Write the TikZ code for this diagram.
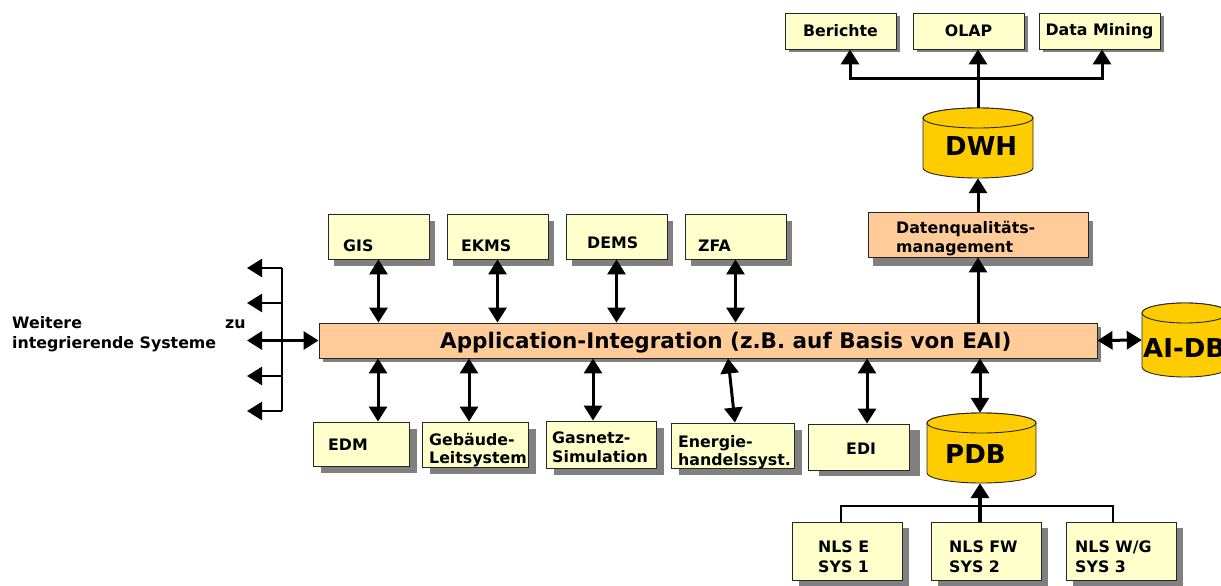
\documentclass[tikz,border=0pt]{standalone}
\usepackage{fontspec}
\setmainfont{DejaVu Sans}
\usetikzlibrary{arrows.meta,shadows}

\definecolor{boxyellow}{HTML}{FFFFCC}
\definecolor{boxpeach}{HTML}{FFCC99}
\definecolor{dbgold}{HTML}{FFCC00}
\definecolor{shadowgray}{HTML}{808080}

\tikzset{
  box/.style={draw=black!85, line width=0.9pt, inner sep=0pt},
  ybox/.style={box, fill=boxyellow},
  pbox/.style={box, fill=boxpeach},
  sh/.style 2 args={drop shadow={shadow xshift=#1, shadow yshift=#2, fill=shadowgray, opacity=1}},
  lbl/.style={font=\bfseries\fontsize{15.8}{19}\selectfont, inner sep=0pt, anchor=base west},
  ctr/.style={font=\bfseries\fontsize{15.8}{19}\selectfont},
  big/.style={font=\bfseries\fontsize{21.5}{25}\selectfont, inner sep=0pt, anchor=base west},
  dbtxt/.style={font=\bfseries\fontsize{26}{30}\selectfont, inner sep=0pt, anchor=base west},
  db/.style={draw=black!85, line width=0.9pt, fill=dbgold},
  dbnode/.style={inner sep=0pt},
  ln/.style={line width=3pt},
  thinln/.style={line width=2pt},
  arr/.style={ln, -{Triangle[width=18pt,length=15pt]}},
  darr/.style={ln, {Triangle[width=18pt,length=15pt]}-{Triangle[width=18pt,length=15pt]}},
}

% database cylinder: name, centre x, top y, bottom y, width (y measured downwards)
\newcommand\dbcyl[5]{%
  \filldraw[db] ({#2-#5/2},{-(#3+10)}) -- ({#2-#5/2},{-(#4-10)})
    arc[start angle=180,end angle=360,x radius={#5/2},y radius=10]
    -- ({#2+#5/2},{-(#3+10)})
    arc[start angle=0,end angle=180,x radius={#5/2},y radius=10] -- cycle;
  \draw[db] ({#2},{-(#3+10)}) ellipse[x radius={#5/2}, y radius=10];
  \node[dbnode, minimum width=#5, minimum height={#4-#3}] (#1) at ({#2},{-(#3+#4)/2}) {};
}

\begin{document}
\begin{tikzpicture}[x=1pt,y=1pt]
\useasboundingbox (0,0) rectangle (1221,-586);
\clip (0,0) rectangle (1221,-586);

% ---- reporting layer
\node[ybox, sh={4pt}{-3pt}, minimum width=111, minimum height=36, ctr] (berichte) at (840.5,-31) {Berichte};
\node[ybox, sh={4pt}{-3pt}, minimum width=111, minimum height=36, ctr] (olap) at (968.5,-31) {OLAP};
\node[ybox, sh={4pt}{-3pt}, minimum width=121, minimum height=36, ctr] (dm) at (1099.5,-31) {Data Mining};

% ---- data warehouse and quality management
\dbcyl{dwh}{978}{108}{178}{110}
\node[dbtxt] (t-dwh) at (945,-155) {DWH};

\node[pbox, sh={5pt}{-9pt}, minimum width=220, minimum height=45] (dq) at (978,-234.5) {};
\node[lbl] (t-dq1) at (896,-233) {Datenqualitäts-};
\node[lbl] (t-dq2) at (896,-252) {management};

% ---- upper systems
\node[ybox, sh={6pt}{-7pt}, minimum width=101, minimum height=45] (gis) at (378.5,-236.5) {};
\node[ybox, sh={6pt}{-7pt}, minimum width=101, minimum height=45] (ekms) at (497.5,-236.5) {};
\node[ybox, sh={6pt}{-7pt}, minimum width=101, minimum height=45] (dems) at (616.5,-236.5) {};
\node[ybox, sh={6pt}{-7pt}, minimum width=101, minimum height=45] (zfa) at (735.5,-236.5) {};
\node[lbl] (t-gis) at (343,-251) {GIS};
\node[lbl] (t-ekms) at (461,-251) {EKMS};
\node[lbl] (t-dems) at (587,-248) {DEMS};
\node[lbl] (t-zfa) at (698,-251) {ZFA};

% ---- integration bus
\node[pbox, sh={4pt}{-4pt}, minimum width=778, minimum height=35] (app) at (708,-340.5) {};
\node[big] (t-app) at (440,-348.5) {Application-Integration (z.B. auf Basis von EAI)};

\dbcyl{aidb}{1185}{303}{377}{86}
\node[dbtxt] (t-aidb) at (1143,-357) {AI-DB};

% ---- lower systems
\node[ybox, sh={8pt}{-7pt}, minimum width=96, minimum height=44] (edm) at (361,-444) {};
\node[ybox, sh={8pt}{-7pt}, minimum width=106, minimum height=45] (geb) at (475,-444.5) {};
\node[ybox, sh={8pt}{-7pt}, minimum width=110, minimum height=47] (gas) at (601,-444.5) {};
\node[ybox, sh={8pt}{-7pt}, minimum width=123, minimum height=45] (ene) at (732.5,-445.5) {};
\node[ybox, sh={11pt}{-6pt}, minimum width=101, minimum height=46] (edi) at (858.5,-447) {};
\node[lbl] (t-edm) at (328,-450) {EDM};
\node[lbl] (t-geb1) at (429,-445) {Gebäude-};
\node[lbl] (t-geb2) at (429,-463) {Leitsystem};
\node[lbl] (t-gas1) at (552,-443) {Gasnetz-};
\node[lbl] (t-gas2) at (552,-462) {Simulation};
\node[lbl] (t-ene1) at (678,-447) {Energie-};
\node[lbl] (t-ene2) at (678,-465) {handelssyst.};
\node[lbl] (t-edi) at (846,-454) {EDI};

\dbcyl{pdb}{981.5}{413}{483}{109}
\node[dbtxt] (t-pdb) at (945,-463) {PDB};

% ---- network control systems
\node[ybox, sh={7pt}{-6pt}, minimum width=110, minimum height=58] (nls1) at (847,-551) {};
\node[ybox, sh={7pt}{-6pt}, minimum width=110, minimum height=58] (nls2) at (986,-551) {};
\node[ybox, sh={7pt}{-6pt}, minimum width=110, minimum height=58] (nls3) at (1121,-551) {};
\node[lbl] (t-n1a) at (818,-552) {NLS E};
\node[lbl] (t-n1b) at (818,-572) {SYS 1};
\node[lbl] (t-n2a) at (949,-552) {NLS FW};
\node[lbl] (t-n2b) at (949,-572) {SYS 2};
\node[lbl] (t-n3a) at (1075,-552) {NLS W/G};
\node[lbl] (t-n3b) at (1075,-572) {SYS 3};

% ---- left side: further systems
\node[lbl] (t-w1) at (12,-328) {Weitere};
\node[lbl] (t-zu) at (225,-328) {zu};
\node[lbl] (t-w2) at (12,-348) {integrierende Systeme};

% ================= connectors =================
% DWH to reporting tools
\coordinate (tj) at (978,-79);
\coordinate (berin) at ([xshift=9.5pt]berichte.south);
\coordinate (olapin) at ([xshift=9.5pt]olap.south);
\coordinate (dmin) at ([xshift=2.5pt]dm.south);
\draw[ln] (dwh.north) -- (tj);
\draw[arr] (tj) -- (olapin);
\draw[arr] (tj) -| (berin);
\draw[arr] (tj) -| (dmin);

% quality management chain
\draw[arr] (dq.north) -- (dwh.south);
\draw[arr] (dq.south |- app.north) -- (dq.south);

% upper systems to the bus
\foreach \s in {gis,ekms,dems,zfa}
  \draw[darr] (\s.south) -- (\s.south |- app.north);

% lower systems to the bus
\coordinate (edmin) at ([xshift=17pt]edm.north);
\coordinate (gebin) at ([xshift=-6pt]geb.north);
\coordinate (gasin) at ([xshift=-8pt]gas.north);
\coordinate (enein) at ([xshift=2.5pt]ene.north);
\coordinate (eneout) at ([xshift=-4.5pt]ene.north |- app.south);
\coordinate (ediin) at ([xshift=8.5pt]edi.north);
\coordinate (pdbin) at ([xshift=-1.5pt]pdb.north);
\draw[darr] (edmin |- app.south) -- (edmin);
\draw[darr] (gebin |- app.south) -- (gebin);
\draw[darr] (gasin |- app.south) -- (gasin);
\draw[darr] (eneout) -- (enein);
\draw[darr] (ediin |- app.south) -- (ediin);
\draw[darr] (pdbin |- app.south) -- (pdbin);

% bus to AI-DB
\draw[darr] (app.east) -- (aidb.west);

% network control systems into PDB
\coordinate (n1up) at ([xshift=-6pt]nls1.north);
\coordinate (n2up) at ([xshift=-6pt]nls2.north);
\coordinate (n3up) at ([xshift=-8pt]nls3.north);
\coordinate (nj) at (980,-506);
\draw[thinln] (n1up) -- (n1up |- nj) -- (n3up |- nj) -- (n3up);
\draw[line width=4pt, -{Triangle[width=18pt,length=15pt]}] (n2up) -- (n2up |- pdb.south);

% fan-out to further systems
\coordinate (bartop) at (282,-268);
\coordinate (barbot) at (282,-411);
\coordinate (out1) at (247,-268);
\coordinate (out2) at (247,-303);
\coordinate (out3) at (247,-340.5);
\coordinate (out4) at (247,-376);
\coordinate (out5) at (247,-411);
\draw[thinln] (bartop) -- (barbot);
\draw[arr, line width=2.5pt] (bartop) -- (out1);
\draw[arr, line width=2.5pt] (out2 -| bartop) -- (out2);
\draw[arr, line width=2.5pt] (out4 -| bartop) -- (out4);
\draw[arr, line width=2.5pt] (barbot) -- (out5);
\draw[darr] (out3) -- (app.west);
\end{tikzpicture}
\end{document}
